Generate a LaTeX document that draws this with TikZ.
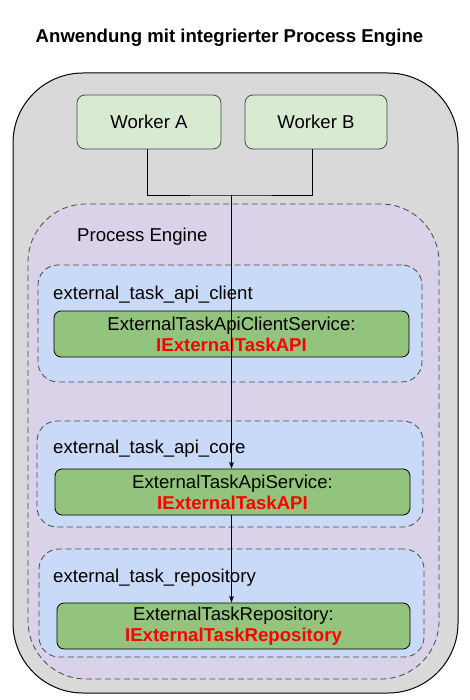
\documentclass[tikz,border=0pt]{standalone}
\usepackage{fontspec}
\setmainfont{Liberation Sans}
\usetikzlibrary{arrows.meta}
\definecolor{outerg}{HTML}{D9D9D9}
\definecolor{wgreen}{HTML}{D9EAD3}
\definecolor{peng}{HTML}{D9D2E9}
\definecolor{pblue}{HTML}{C9DAF8}
\definecolor{sgreen}{HTML}{93C47D}
\definecolor{bord}{HTML}{4A4A4A}
\definecolor{ired}{HTML}{FF0000}
\tikzset{
  every node/.style={font=\fontsize{18.6}{22}\selectfont, inner sep=0pt},
  outerbox/.style={draw=black, line width=1pt, fill=outerg, rounded corners=70pt},
  enginebox/.style={draw=bord, line width=0.8pt, dash pattern=on 6pt off 3.5pt, fill=peng, rounded corners=58pt},
  pkgbox/.style={draw=bord, line width=0.8pt, dash pattern=on 6pt off 3.5pt, fill=pblue, rounded corners=20pt},
  workerbox/.style={draw=bord, line width=0.8pt, fill=wgreen, rounded corners=8pt},
  svcbox/.style={draw=black, line width=0.8pt, fill=sgreen, rounded corners=7pt, align=center},
  lbl/.style={anchor=base west},
  conn/.style={draw=black, line width=0.9pt},
  arr/.style={conn, -{Stealth[length=7pt,width=5pt]}},
}
\begin{document}
\begin{tikzpicture}[x=1pt,y=-1pt]
\useasboundingbox (0,0) rectangle (470,700);
\node[font=\fontsize{18.6}{22}\selectfont\bfseries] (title) at (229.5,38) {Anwendung mit integrierter Process Engine};
\node[outerbox, minimum width=445pt, minimum height=620pt] (outer) at (235.5,383) {};
\node[enginebox, minimum width=411pt, minimum height=475pt] (engine) at (233.5,441.5) {};
\node[lbl] (englbl) at (77,242) {Process Engine};
\node[workerbox, minimum width=144pt, minimum height=54pt] (wa) at (149,122) {Worker A};
\node[workerbox, minimum width=142pt, minimum height=54pt] (wb) at (316,122) {Worker B};
\node[pkgbox, minimum width=384pt, minimum height=117pt] (pclient) at (230,323.5) {};
\node[pkgbox, minimum width=386pt, minimum height=106pt] (pcore) at (230,474) {};
\node[pkgbox, minimum width=385pt, minimum height=108pt] (prepo) at (231.5,603) {};
\node[lbl] (lclient) at (53,299) {external\_task\_api\_client};
\node[lbl] (lcore) at (53,453) {external\_task\_api\_core};
\node[lbl] (lrepo) at (53,582) {external\_task\_repository};
\node[svcbox, minimum width=355pt, minimum height=46pt] (sclient) at (231.5,334) {ExternalTaskApiClientService:\\[-1pt]{\bfseries\color{ired}IExternalTaskAPI}};
\node[svcbox, minimum width=355pt, minimum height=46pt] (score) at (232.5,492) {ExternalTaskApiService:\\[-1pt]{\bfseries\color{ired}IExternalTaskAPI}};
\node[svcbox, minimum width=353pt, minimum height=46pt] (srepo) at (233.5,626) {ExternalTaskRepository:\\[-1pt]{\bfseries\color{ired}IExternalTaskRepository}};
\coordinate (j) at (231.5,195);
\draw[conn] ([xshift=-2pt]wa.south) |- (j) -| ([xshift=-4pt]wb.south);
\draw[arr] (j) -- (j |- score.north);
\draw[arr] ([xshift=-1pt]score.south) -- ([xshift=-1pt]score.south |- srepo.north);
\end{tikzpicture}
\end{document}
